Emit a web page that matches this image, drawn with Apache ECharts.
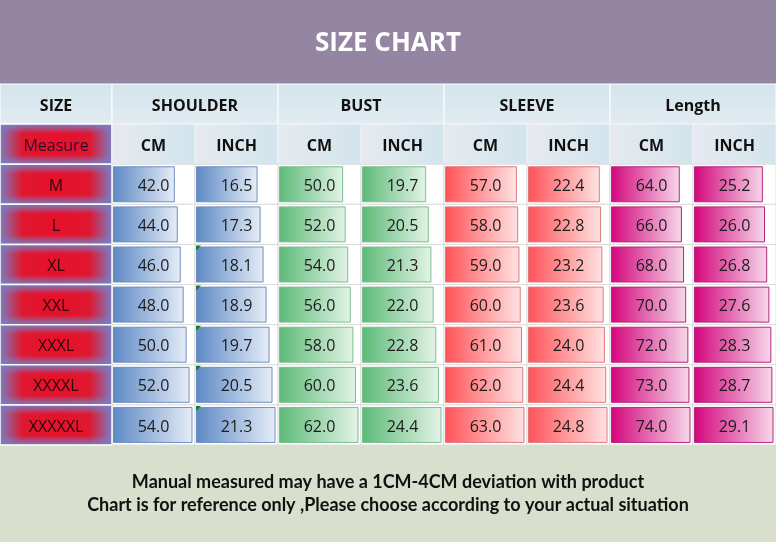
<!DOCTYPE html>
<html lang="en">
<head>
<meta charset="UTF-8" />
<title>Size chart</title>
<script src="https://cdn.jsdelivr.net/npm/echarts@6/dist/echarts.min.js"></script>
<style>
  html, body { margin: 0; padding: 0; background: #d8dfcc; }
  #main { width: 776px; height: 542px; }
</style>
</head>
<body>
<div id="main"></div>
<script>
const sizes = ['M', 'L', 'XL', 'XXL', 'XXXL', 'XXXXL', 'XXXXXL'];
const groups = ['SHOULDER', 'BUST', 'SLEEVE', 'Length'];
const units = ['CM', 'INCH'];

const shoulderCm = [42.0, 44.0, 46.0, 48.0, 50.0, 52.0, 54.0];
const shoulderInch = [16.5, 17.3, 18.1, 18.9, 19.7, 20.5, 21.3];
const bustCm = [50.0, 52.0, 54.0, 56.0, 58.0, 60.0, 62.0];
const bustInch = [19.7, 20.5, 21.3, 22.0, 22.8, 23.6, 24.4];
const sleeveCm = [57.0, 58.0, 59.0, 60.0, 61.0, 62.0, 63.0];
const sleeveInch = [22.4, 22.8, 23.2, 23.6, 24.0, 24.4, 24.8];
const lengthCm = [64.0, 66.0, 68.0, 70.0, 72.0, 73.0, 74.0];
const lengthInch = [25.2, 26.0, 26.8, 27.6, 28.3, 28.7, 29.1];

// cells with the little green corner mark (shoulder / inch)
const flagged = ['XL', 'XXL', 'XXXL', 'XXXXL', 'XXXXXL'];

const notes = [
  'Manual measured may have a 1CM-4CM deviation with product',
  'Chart is for reference only ,Please choose according to your actual situation'
];

const columns = [shoulderCm, shoulderInch, bustCm, bustInch, sleeveCm, sleeveInch, lengthCm, lengthInch];
const rowNames = ['SIZE', 'Measure'].concat(sizes);
const colNames = [];
groups.forEach(g => units.forEach(u => colNames.push(g + ' ' + u)));

// [fill start, fill end, border] per group
const barColors = [
  ['#5d89c5', '#e6edf7', '#6f8fbf'],
  ['#5cba77', '#e3f3e7', '#7cbf8e'],
  ['#ff5257', '#ffe3e3', '#de7a7e'],
  ['#d4057c', '#f6d8ea', '#b3287f']
];

const font = '"Open Sans", sans-serif';
const tableTop = 84;
const tableH = 361;
const rowH = tableH / rowNames.length;
const sizeW = 112;
const cellW = 83;
const textDy = 2; // Open Sans sits a bit high when middle-aligned

function gradient(x2, y2, stops) {
  return new echarts.graphic.LinearGradient(0, 0, x2, y2,
    stops.map(s => ({ offset: s[0], color: s[1] })));
}

const headTop = gradient(0, 1, [[0, '#d3e4ed'], [1, '#e3ebf1']]);
const headSub = gradient(1, 0, [[0, '#e7eaf0'], [1, '#d2e4ec']]);
const purple = 'rgba(123,124,193,1)', clear = 'rgba(123,124,193,0)';
const sizeAcross = gradient(1, 0, [[0, '#7b7cc1'], [0.2, '#df1830'], [0.5, '#e8102a'], [0.8, '#df1830'], [1, '#7b7cc1']]);
const sizeDown = gradient(0, 1, [[0, purple], [0.24, clear], [0.76, clear], [1, purple]]);

function label(x, y, text, weight, fill) {
  return { type: 'text', style: { x: x, y: y + textDy, text: text, fill: fill,
    font: weight + ' 16px ' + font, align: 'center', verticalAlign: 'middle' } };
}

function sizeCell(params, api) {
  const r = api.value(1);
  const p = api.coord([0, r]);
  const s = api.size([1, 1]);
  const x = p[0] - s[0] / 2, y = p[1] - s[1] / 2;
  const shape = { x: x, y: y, width: s[0], height: s[1] };
  if (r === 0) {
    return {
      type: 'group',
      children: [
        { type: 'rect', shape: shape, style: { fill: headTop, stroke: '#ffffff', lineWidth: 1 } },
        label(p[0], p[1], rowNames[r], 'bold', '#111')
      ]
    };
  }
  return {
    type: 'group',
    children: [
      { type: 'rect', shape: shape, style: { fill: sizeAcross } },
      { type: 'rect', shape: shape, style: { fill: sizeDown } },
      { type: 'rect', shape: shape, style: { fill: 'none', stroke: '#ffffff', lineWidth: 1.5 } },
      label(p[0], p[1], rowNames[r], 'normal', r === 1 ? '#2a1030' : '#2a0808')
    ]
  };
}

function tableCell(params, api) {
  const c = api.value(0), r = api.value(1);
  const p = api.coord([c, r]);
  const s = api.size([1, 1]);
  let x = p[0] - s[0] / 2, y = p[1] - s[1] / 2, w = s[0];
  if (r === 0) {
    w = s[0] * 2;
    return {
      type: 'group',
      children: [
        { type: 'rect', shape: { x: x, y: y, width: w, height: s[1] },
          style: { fill: headTop, stroke: '#ffffff', lineWidth: 1 } },
        label(x + w / 2, p[1], groups[c / 2], 'bold', '#111')
      ]
    };
  }
  if (r === 1) {
    return {
      type: 'group',
      children: [
        { type: 'rect', shape: { x: x, y: y, width: w, height: s[1] },
          style: { fill: headSub, stroke: '#eef2f6', lineWidth: 1 } },
        label(p[0], p[1], units[c % 2], 'bold', '#111')
      ]
    };
  }
  return { type: 'rect', shape: { x: x, y: y, width: w, height: s[1] },
    style: { fill: '#ffffff', stroke: '#dcdcdc', lineWidth: 1 } };
}

function cornerMark(params, api) {
  const p = api.coord([api.value(0), api.value(1)]);
  const s = api.size([1, 1]);
  const x = p[0] - s[0] / 2, y = p[1] - s[1] / 2;
  return { type: 'polygon', shape: { points: [[x + 1, y + 1], [x + 6, y + 1], [x + 1, y + 6]] },
    style: { fill: '#127a2c' } };
}

const tableData = [];
rowNames.forEach((n, r) => {
  colNames.forEach((cn, c) => {
    if (r > 0 || c % 2 === 0) tableData.push([c, r]);
  });
});

const grids = [
  { left: 0, top: tableTop, width: sizeW, height: tableH },
  { left: sizeW, top: tableTop, width: cellW * colNames.length, height: tableH }
];
const xAxes = [
  { type: 'category', gridIndex: 0, data: ['SIZE'], show: false },
  { type: 'category', gridIndex: 1, data: colNames, show: false }
];
const yAxes = [
  { type: 'category', gridIndex: 0, data: rowNames, inverse: true, show: false },
  { type: 'category', gridIndex: 1, data: rowNames, inverse: true, show: false }
];
const series = [
  { type: 'custom', xAxisIndex: 0, yAxisIndex: 0, z: 1, renderItem: sizeCell,
    data: rowNames.map((n, r) => [0, r]) },
  { type: 'custom', xAxisIndex: 1, yAxisIndex: 1, z: 1, renderItem: tableCell, data: tableData }
];

columns.forEach((vals, i) => {
  const col = barColors[Math.floor(i / 2)];
  grids.push({ left: sizeW + i * cellW + 1, top: tableTop + 2 * rowH, width: 79.5, height: 7 * rowH });
  xAxes.push({ type: 'value', gridIndex: i + 2, min: 0, max: 'dataMax', show: false });
  yAxes.push({ type: 'category', gridIndex: i + 2, data: sizes, inverse: true, show: false });
  series.push({
    type: 'bar',
    name: colNames[i],
    xAxisIndex: i + 2,
    yAxisIndex: i + 2,
    z: 2,
    barWidth: 36,
    data: vals,
    itemStyle: { color: gradient(1, 0, [[0, col[0]], [1, col[1]]]), borderColor: col[2], borderWidth: 1 },
    label: {
      show: true,
      position: [cellW / 2 - 1, 18 + textDy],
      align: 'center',
      verticalAlign: 'middle',
      color: '#1c1c1c',
      fontFamily: font,
      fontSize: 16,
      formatter: p => p.value.toFixed(1)
    },
    animation: false
  });
});

series.push({ type: 'custom', xAxisIndex: 1, yAxisIndex: 1, z: 3, renderItem: cornerMark,
  data: flagged.map(n => [1, rowNames.indexOf(n)]) });

const option = {
  animation: false,
  backgroundColor: '#d8dfcc',
  graphic: [
    { type: 'rect', z: -1, shape: { x: 0, y: 0, width: 776, height: tableTop }, style: { fill: '#9485a3' } }
  ],
  title: [
    { text: 'SIZE CHART', left: 'center', top: 31, padding: 0,
      textStyle: { color: '#ffffff', fontFamily: font, fontWeight: 'bold', fontSize: 26 } },
    { text: notes[0], left: 'center', top: 473, padding: 0,
      textStyle: { color: '#111', fontFamily: 'Lato, sans-serif', fontWeight: 'bold', fontSize: 18 } },
    { text: notes[1], left: 'center', top: 496, padding: 0,
      textStyle: { color: '#111', fontFamily: 'Lato, sans-serif', fontWeight: 'bold', fontSize: 18 } }
  ],
  grid: grids,
  xAxis: xAxes,
  yAxis: yAxes,
  series: series
};

const myChart = echarts.init(document.getElementById('main'));
myChart.setOption(option);
window.onresize = function () { myChart.resize(); };
</script>
</body>
</html>
